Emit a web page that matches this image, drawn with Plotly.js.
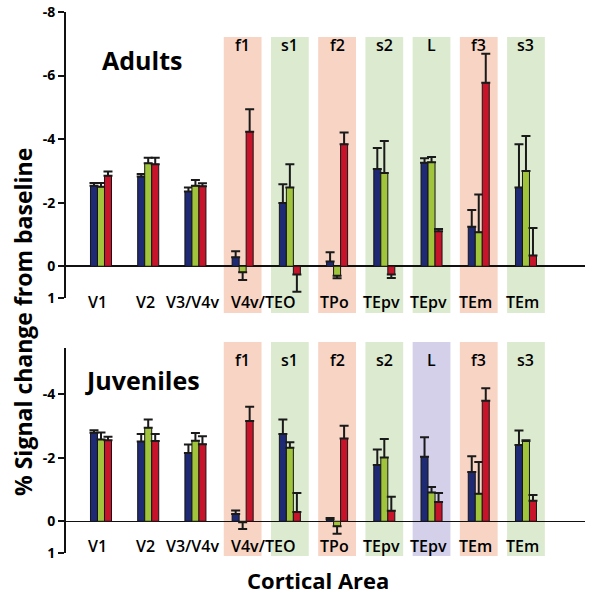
<!DOCTYPE html>
<html>
<head>
<meta charset="utf-8">
<script src="https://cdn.plot.ly/plotly-3.0.1.min.js"></script>
<style>html,body{margin:0;padding:0;background:#fff;}#chart{width:593px;height:600px;}</style>
</head>
<body>
<div id="chart"></div>
<script>
// ---- data ----
var columns = [0, 1, 2, 3, 4, 5, 6, 7, 8, 9];
var areaLabels = ['V1', 'V2', 'V3/V4v', 'V4v/TEO', 'TPo', 'TEpv', 'TEpv', 'TEm', 'TEm'];
var areaFirstCol = [0, 1, 2, 3, 5, 6, 7, 8, 9];
var areaLastCol  = [0, 1, 2, 4, 5, 6, 7, 8, 9];
var bandNames = ['f1', 's1', 'f2', 's2', 'L', 'f3', 's3'];
var bandCols  = [3, 4, 5, 6, 7, 8, 9];
var bandKindAdults    = ['face', 'scene', 'face', 'scene', 'scene', 'face', 'scene'];
var bandKindJuveniles = ['face', 'scene', 'face', 'scene', 'other', 'face', 'scene'];

var adultsBlue  = [-2.53, -2.82, -2.35, -0.28, -1.99, -0.15, -3.06, -3.26, -1.24, -2.48];
var adultsBlueErr  = [0.09, 0.08, 0.13, 0.19, 0.59, 0.29, 0.66, 0.14, 0.53, 1.36];
var adultsGreen = [-2.50, -3.24, -2.53, 0.19, -2.48, 0.30, -2.93, -3.27, -1.07, -3.00];
var adultsGreenErr = [0.12, 0.17, 0.18, 0.24, 0.73, 0.08, 1.01, 0.17, 1.19, 1.10];
var adultsRed   = [-2.85, -3.21, -2.52, -4.23, 0.26, -3.84, 0.26, -1.10, -5.77, -0.34];
var adultsRedErr   = [0.13, 0.20, 0.09, 0.71, 0.54, 0.37, 0.11, 0.07, 0.92, 0.86];

var juvBlue  = [-2.79, -2.51, -2.15, -0.23, -2.75, -0.06, -1.77, -2.03, -1.55, -2.40];
var juvBlueErr  = [0.08, 0.24, 0.27, 0.11, 0.46, 0.04, 0.49, 0.62, 0.50, 0.46];
var juvGreen = [-2.58, -2.95, -2.54, 0.03, -2.32, 0.16, -2.01, -0.91, -0.87, -2.53];
var juvGreenErr = [0.22, 0.26, 0.24, 0.21, 0.17, 0.23, 0.58, 0.17, 1.00, 0.02];
var juvRed   = [-2.55, -2.53, -2.43, -3.16, -0.29, -2.61, -0.33, -0.61, -3.80, -0.65];
var juvRedErr   = [0.11, 0.22, 0.25, 0.45, 0.60, 0.40, 0.44, 0.28, 0.39, 0.18];

var topTicks = [-8, -6, -4, -2, 0, 1];
var bottomTicks = [-4, -2, 0, 1];

// ---- styles ----
var FONT = 'Open Sans, Noto Sans, sans-serif';
var TXT = '#000';
var colBlue = '#1f2a74', colGreen = '#a0c43c', colRed = '#c8142a';
var bandColor = {face: '#f7d4c3', scene: '#dcebd0', other: '#d4d0ea'};

function errUp(vals, errs) { // away from zero: positive side
  return vals.map(function (v, i) { return v > 0 ? errs[i] : 0; });
}
function errDown(vals, errs) {
  return vals.map(function (v, i) { return v <= 0 ? errs[i] : 0; });
}
function barTrace(vals, errs, color, xa, ya) {
  return {
    type: 'bar', x: columns, y: vals, xaxis: xa, yaxis: ya,
    marker: {color: color, line: {color: '#151515', width: 1}},
    error_y: {type: 'data', symmetric: false, array: errUp(vals, errs), arrayminus: errDown(vals, errs),
              color: '#1a1a1a', thickness: 2, width: 4.5},
    hoverinfo: 'none'
  };
}

var data = [
  barTrace(adultsBlue, adultsBlueErr, colBlue, 'x', 'y'),
  barTrace(adultsGreen, adultsGreenErr, colGreen, 'x', 'y'),
  barTrace(adultsRed, adultsRedErr, colRed, 'x', 'y'),
  barTrace(juvBlue, juvBlueErr, colBlue, 'x2', 'y2'),
  barTrace(juvGreen, juvGreenErr, colGreen, 'x2', 'y2'),
  barTrace(juvRed, juvRedErr, colRed, 'x2', 'y2')
];

var W = 593, H = 600;
function px(x) { return x / W; }
function py(y) { return 1 - y / H; }

var shapes = [], annotations = [];
function note(o) {
  o.showarrow = false; o.xanchor = 'center'; o.yanchor = 'middle';
  annotations.push(o);
}
var panels = [
  {xa: 'x', kinds: bandKindAdults, bandTop: 37, bandBot: 313, bandLabelY: 45, areaY: 302},
  {xa: 'x2', kinds: bandKindJuveniles, bandTop: 342, bandBot: 556, bandLabelY: 360, areaY: 546}
];
panels.forEach(function (p) {
  bandCols.forEach(function (c, i) {
    shapes.push({type: 'rect', xref: p.xa, yref: 'paper', layer: 'below',
      x0: c - 0.40, x1: c + 0.40, y0: py(p.bandBot), y1: py(p.bandTop),
      fillcolor: bandColor[p.kinds[i]], line: {width: 0}});
    note({xref: p.xa, yref: 'paper', x: c, y: py(p.bandLabelY), text: bandNames[i],
      font: {family: FONT, size: 16, color: TXT, weight: 600}});
  });
  areaLabels.forEach(function (lab, i) {
    note({xref: p.xa, yref: 'paper', x: (areaFirstCol[i] + areaLastCol[i]) / 2, xshift: -3,
      y: py(p.areaY), text: lab,
      font: {family: FONT, size: 16, color: TXT, weight: 600}});
  });
});

note({xref: 'paper', yref: 'paper', x: px(142), y: py(60), text: 'Adults',
  font: {family: FONT, size: 25, color: TXT, weight: 700}});
note({xref: 'paper', yref: 'paper', x: px(142), y: py(380), text: 'Juveniles',
  font: {family: FONT, size: 25, color: TXT, weight: 700}});
note({xref: 'paper', yref: 'paper', x: px(23), y: py(322), text: '% Signal change from baseline',
  textangle: -90, font: {family: FONT, size: 23, color: TXT, weight: 700}});
note({xref: 'paper', yref: 'paper', x: px(318), y: py(580), text: 'Cortical Area',
  font: {family: FONT, size: 22, color: TXT, weight: 700}});

function yAxis(range, ticks, dom, anchor) {
  return {
    domain: dom, range: range, anchor: anchor,
    tickvals: ticks, ticktext: ticks.map(function (t) { return String(t); }),
    showline: true, linecolor: '#111', linewidth: 2,
    ticks: 'outside', ticklen: 6, tickwidth: 2, tickcolor: '#111',
    tickfont: {family: FONT, size: 14, color: TXT, weight: 700},
    showgrid: false, zeroline: true, zerolinecolor: '#111', zerolinewidth: 1.5,
    fixedrange: true
  };
}
function xAxis(anchor) {
  return {domain: [px(66), px(585)], range: [-0.741, 10.25], anchor: anchor,
    showline: false, showgrid: false, zeroline: false, showticklabels: false, ticks: '', fixedrange: true};
}

var layout = {
  width: W, height: H, margin: {l: 0, r: 0, t: 0, b: 0},
  paper_bgcolor: '#fff', plot_bgcolor: 'rgba(0,0,0,0)',
  showlegend: false, barmode: 'group', bargap: 0.555, bargroupgap: 0,
  xaxis: xAxis('y'), yaxis: yAxis([1, -8], topTicks, [py(298), py(12)], 'x'),
  xaxis2: xAxis('y2'), yaxis2: yAxis([1, -5.46], bottomTicks, [py(553), py(348)], 'x2'),
  shapes: shapes, annotations: annotations
};

Plotly.newPlot('chart', data, layout, {staticPlot: true});
</script>
</body>
</html>
